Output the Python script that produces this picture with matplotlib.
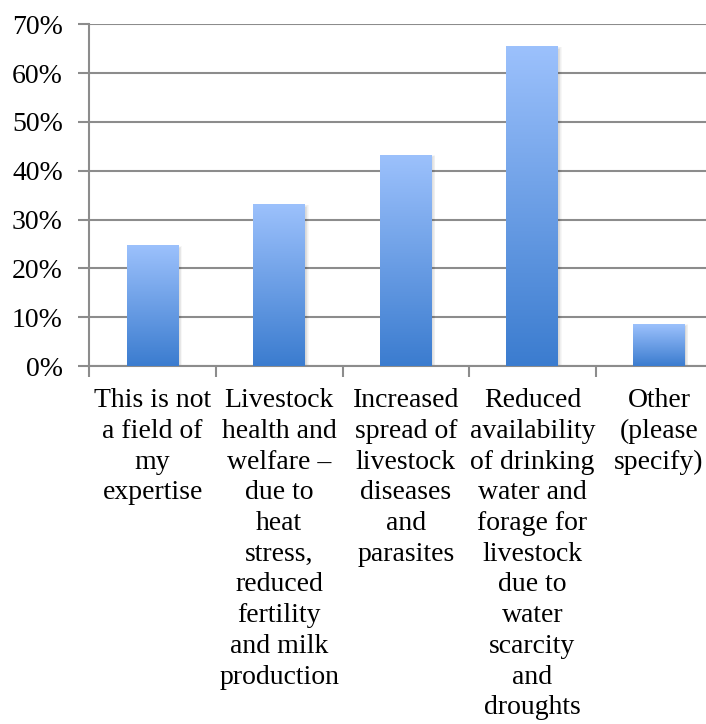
import numpy as np
import matplotlib.pyplot as plt
from matplotlib.colors import LinearSegmentedColormap
from matplotlib.patches import Rectangle

categories = [
    "This is not\na field of\nmy\nexpertise",
    "Livestock\nhealth and\nwelfare \u2013\ndue to\nheat\nstress,\nreduced\nfertility\nand milk\nproduction",
    "Increased\nspread of\nlivestock\ndiseases\nand\nparasites",
    "Reduced\navailability\nof drinking\nwater and\nforage for\nlivestock\ndue to\nwater\nscarcity\nand\ndroughts",
    "Other\n(please\nspecify)",
]
values = [0.246, 0.330, 0.432, 0.654, 0.086]
yticks = [0, 0.1, 0.2, 0.3, 0.4, 0.5, 0.6, 0.7]
ytick_labels = ["0%", "10%", "20%", "30%", "40%", "50%", "60%", "70%"]

plt.rcParams['font.family'] = ['Liberation Serif', 'DejaVu Serif']

fig = plt.figure(figsize=(7.06, 7.24), dpi=100)
ax = fig.add_axes([89.3/706, 1 - 366/724, 1 - 89.3/706, (366 - 24.3)/724])

grid_col = '#8c8c8c'
cmap = LinearSegmentedColormap.from_list('bar', ['#3b7ccf', '#9cc1fc'])
grad = np.linspace(0, 1, 256).reshape(-1, 1)
width = 0.41

for i, v in enumerate(values):
    x0 = i - width/2
    # soft shadow
    for k in range(1, 6):
        d = 0.004*k
        ax.add_patch(Rectangle((x0 + d*0.6, -0.004), width + d*0.8, v - 0.002 + d*0.3,
                               facecolor='black', edgecolor='none', alpha=0.03, zorder=2))
    ax.imshow(grad, cmap=cmap, origin='lower', aspect='auto',
              extent=[x0, x0 + width, 0, v], zorder=3, interpolation='bilinear')

ax.set_yticks(yticks)
ax.set_yticklabels(ytick_labels)
for y in yticks:
    ax.axhline(y, color=grid_col, lw=1.5, zorder=1)

ax.set_xticks(np.arange(len(categories) + 1) - 0.5)
ax.set_xticklabels([])
ax.set_xticks(np.arange(len(categories)), minor=True)
ax.set_xticklabels(categories, minor=True, linespacing=1.3)
ax.tick_params(axis='x', which='minor', length=0, pad=16, labelsize=20)
ax.tick_params(axis='x', which='major', length=8, width=1.5, color=grid_col)
ax.tick_params(axis='y', length=8, width=1.5, color=grid_col, pad=11, labelsize=20)

ax.set_xlim(-0.5, -0.5 + (706 - 89.3)/126.6)
ax.set_ylim(0, 0.7)

for s in ['top', 'right']:
    ax.spines[s].set_visible(False)
ax.spines['left'].set_color(grid_col)
ax.spines['left'].set_linewidth(1.5)
ax.spines['bottom'].set_color(grid_col)
ax.spines['bottom'].set_linewidth(1.5)
ax.spines['left'].set_zorder(1)

fig.savefig('out.png', dpi=100)
